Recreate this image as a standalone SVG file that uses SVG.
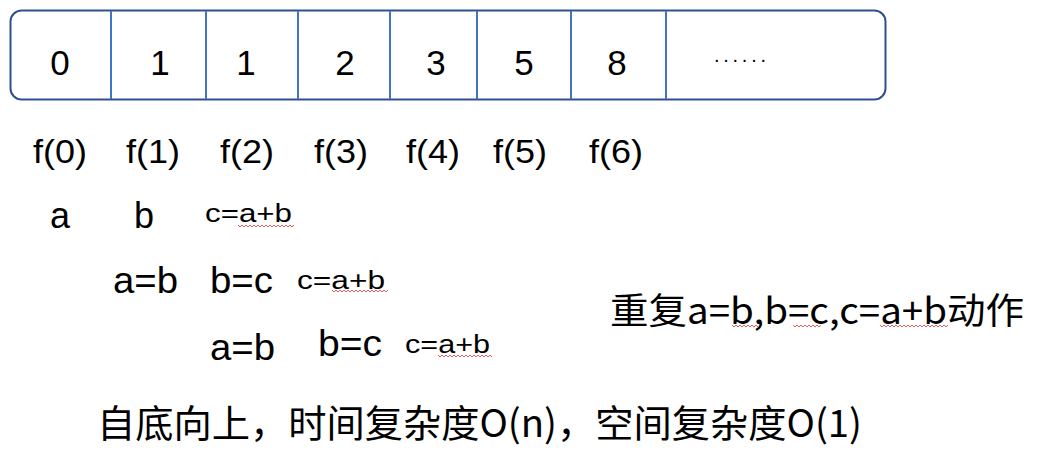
<svg xmlns="http://www.w3.org/2000/svg" width="1042" height="454" viewBox="0 0 1042 454">
<style>
text{font-family:"Liberation Sans","Noto Sans CJK SC",sans-serif;fill:#000}
.d{font-size:35px;text-anchor:middle}
.f{font-size:33px;text-anchor:middle}
.v{font-size:36px}
.s{font-size:25px}
.cn{font-family:"Noto Sans CJK SC","Liberation Sans",sans-serif;font-size:36px}
.div{stroke:#4472C4;stroke-width:2}
.sq{fill:none;stroke:#E06060;stroke-width:1}
</style>
<g id="array">
<rect x="10.5" y="10.5" width="875" height="89" rx="11" fill="#fff" stroke="#2F528F" stroke-width="2"/>
<line class="div" x1="111" y1="11" x2="111" y2="99"/>
<line class="div" x1="206" y1="11" x2="206" y2="99"/>
<line class="div" x1="298" y1="11" x2="298" y2="99"/>
<line class="div" x1="390" y1="11" x2="390" y2="99"/>
<line class="div" x1="477" y1="11" x2="477" y2="99"/>
<line class="div" x1="571" y1="11" x2="571" y2="99"/>
<line class="div" x1="666" y1="11" x2="666" y2="99"/>
<text class="d" x="60" y="75">0</text>
<text class="d" x="160" y="75">1</text>
<text class="d" x="246" y="75">1</text>
<text class="d" x="345" y="75">2</text>
<text class="d" x="436" y="75">3</text>
<text class="d" x="524" y="75">5</text>
<text class="d" x="617" y="75">8</text>
<text x="714" y="62" style="font-size:20px" textLength="52" lengthAdjust="spacing">......</text>
</g>
<g id="labels">
<text class="f" x="60" y="163" textLength="54" lengthAdjust="spacingAndGlyphs">f(0)</text>
<text class="f" x="153" y="163" textLength="54" lengthAdjust="spacingAndGlyphs">f(1)</text>
<text class="f" x="247" y="163" textLength="54" lengthAdjust="spacingAndGlyphs">f(2)</text>
<text class="f" x="341" y="163" textLength="54" lengthAdjust="spacingAndGlyphs">f(3)</text>
<text class="f" x="433" y="163" textLength="54" lengthAdjust="spacingAndGlyphs">f(4)</text>
<text class="f" x="520" y="163" textLength="54" lengthAdjust="spacingAndGlyphs">f(5)</text>
<text class="f" x="616" y="163" textLength="54" lengthAdjust="spacingAndGlyphs">f(6)</text>
</g>
<g id="step1">
<text class="v" x="50" y="228">a</text>
<text class="v" x="134" y="228">b</text>
<text class="s" x="205" y="222" textLength="87" lengthAdjust="spacingAndGlyphs">c=a+b</text>
</g>
<g id="step2">
<text class="v" x="113" y="293" textLength="65" lengthAdjust="spacingAndGlyphs">a=b</text>
<text class="v" x="210" y="293" textLength="63" lengthAdjust="spacingAndGlyphs">b=c</text>
<text class="s" x="297" y="289" textLength="88" lengthAdjust="spacingAndGlyphs">c=a+b</text>
</g>
<g id="step3">
<text class="v" x="210" y="360" textLength="65" lengthAdjust="spacingAndGlyphs">a=b</text>
<text class="v" x="318" y="356" textLength="64" lengthAdjust="spacingAndGlyphs">b=c</text>
<text class="s" x="405" y="353" textLength="85" lengthAdjust="spacingAndGlyphs">c=a+b</text>
</g>
<g id="repeat">
<text class="cn" x="610" y="324" textLength="414" lengthAdjust="spacingAndGlyphs">重复a=b,b=c,c=a+b动作</text>
</g>
<g id="summary">
<text class="cn" x="97" y="437" style="font-size:38px" textLength="765" lengthAdjust="spacingAndGlyphs">自底向上，时间复杂度O(n)，空间复杂度O(1)</text>
</g>
<g id="squiggles">
<path class="sq" d="M238 225 l2 2 l2 -2 l2 2 l2 -2 l2 2 l2 -2 l2 2 l2 -2 l2 2 l2 -2 l2 2 l2 -2 l2 2 l2 -2 l2 2 l2 -2 l2 2 l2 -2 l2 2 l2 -2 l2 2 l2 -2 l2 2 l2 -2 l2 2 l2 -2 l2 2 l2 -2"/>
<path class="sq" d="M332 290 l2 2 l2 -2 l2 2 l2 -2 l2 2 l2 -2 l2 2 l2 -2 l2 2 l2 -2 l2 2 l2 -2 l2 2 l2 -2 l2 2 l2 -2 l2 2 l2 -2 l2 2 l2 -2 l2 2 l2 -2 l2 2 l2 -2 l2 2 l2 -2 l2 2 l2 -2"/>
<path class="sq" d="M438 355 l2 2 l2 -2 l2 2 l2 -2 l2 2 l2 -2 l2 2 l2 -2 l2 2 l2 -2 l2 2 l2 -2 l2 2 l2 -2 l2 2 l2 -2 l2 2 l2 -2 l2 2 l2 -2 l2 2 l2 -2 l2 2 l2 -2 l2 2 l2 -2 l2 2"/>
<path class="sq" d="M732 325 l2 2 l2 -2 l2 2 l2 -2 l2 2 l2 -2 l2 2 l2 -2 l2 2 l2 -2 l2 2 l2 -2 l2 2"/>
<path class="sq" d="M793 325 l2 2 l2 -2 l2 2 l2 -2 l2 2 l2 -2 l2 2 l2 -2 l2 2 l2 -2 l2 2 l2 -2 l2 2 l2 -2"/>
<path class="sq" d="M880 325 l2 2 l2 -2 l2 2 l2 -2 l2 2 l2 -2 l2 2 l2 -2 l2 2 l2 -2 l2 2 l2 -2 l2 2 l2 -2 l2 2 l2 -2 l2 2 l2 -2 l2 2 l2 -2 l2 2 l2 -2 l2 2 l2 -2 l2 2 l2 -2 l2 2 l2 -2 l2 2 l2 -2 l2 2 l2 -2 l2 2 l2 -2"/>
</g>
</svg>
